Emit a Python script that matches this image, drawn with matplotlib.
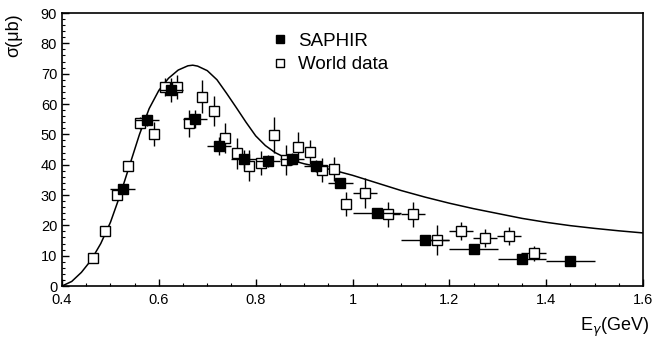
import matplotlib
matplotlib.use("Agg")
import matplotlib.pyplot as plt
from matplotlib.ticker import MultipleLocator

plt.rcParams["font.family"] = ["Liberation Sans", "DejaVu Sans"]

# SAPHIR data (filled squares)
saphir_e = [0.525, 0.575, 0.625, 0.675, 0.725, 0.775, 0.825, 0.875, 0.925, 0.975,
            1.05, 1.15, 1.25, 1.35, 1.45]
saphir_sig = [32.0, 54.8, 64.5, 55.0, 46.2, 41.9, 41.1, 41.9, 39.7, 33.9,
              24.2, 15.2, 12.1, 9.0, 8.2]
saphir_dsig = [1.2, 2.0, 4.0, 3.0, 3.0, 3.0, 2.0, 2.0, 2.0, 1.5,
               1.0, 1.0, 1.0, 1.0, 1.0]
saphir_de = [0.025, 0.025, 0.025, 0.025, 0.025, 0.025, 0.025, 0.025, 0.025, 0.025,
             0.05, 0.05, 0.05, 0.05, 0.05]

# World data (open squares)
world_e = [0.463, 0.489, 0.513, 0.537, 0.561, 0.589, 0.613, 0.637, 0.663, 0.689,
           0.713, 0.737, 0.762, 0.787, 0.811, 0.837, 0.863, 0.887, 0.912, 0.937,
           0.962, 0.987, 1.025, 1.074, 1.125, 1.174, 1.224, 1.274, 1.323, 1.374]
world_sig = [9.1, 18.1, 30.0, 39.6, 53.6, 50.1, 65.5, 65.5, 53.6, 62.4,
             57.7, 48.9, 43.7, 39.7, 40.5, 49.8, 41.5, 45.9, 44.3, 38.2,
             38.6, 27.0, 30.6, 23.6, 23.6, 15.2, 18.2, 15.7, 16.6, 10.8]
world_dsig = [1.0, 1.0, 1.5, 1.5, 2.0, 4.0, 3.0, 4.0, 4.5, 5.5,
              5.0, 5.0, 5.0, 5.0, 4.0, 6.0, 5.0, 5.0, 4.0, 4.0,
              4.0, 4.0, 5.0, 4.0, 4.0, 5.0, 3.0, 3.0, 3.0, 2.5]
world_de = [0, 0, 0, 0, 0, 0, 0, 0, 0, 0,
            0, 0, 0, 0, 0, 0, 0, 0, 0, 0,
            0, 0, 0.025, 0.025, 0.025, 0.025, 0.025, 0.025, 0.025, 0.025]

# model curve
curve_e = [0.40, 0.42, 0.44, 0.46, 0.48, 0.50, 0.52, 0.54, 0.56, 0.58,
           0.60, 0.62, 0.64, 0.66, 0.67, 0.68, 0.70, 0.72, 0.74, 0.76,
           0.78, 0.80, 0.82, 0.84, 0.86, 0.88, 0.90, 0.93, 0.96, 1.00,
           1.05, 1.10, 1.15, 1.20, 1.25, 1.30, 1.35, 1.40, 1.45, 1.50,
           1.55, 1.60]
curve_sig = [0.0, 1.5, 4.5, 8.5, 14.0, 21.0, 30.0, 40.0, 50.0, 58.5,
             64.5, 68.5, 71.2, 72.6, 72.8, 72.5, 71.0, 68.0, 63.5, 58.8,
             54.0, 49.5, 46.3, 44.0, 42.4, 41.2, 40.3, 39.3, 38.2, 36.5,
             34.0, 31.5, 29.3, 27.3, 25.5, 23.9, 22.3, 21.0, 19.9, 19.0,
             18.2, 17.5]

fig = plt.figure(figsize=(6.55, 3.38), dpi=100)
ax = fig.add_axes([0.0947, 0.1538, 0.887, 0.8077])

ax.plot(curve_e, curve_sig, color="black", lw=1.1, zorder=2)

ax.errorbar(world_e, world_sig, yerr=world_dsig, xerr=world_de, fmt="s",
            mfc="white", mec="black", mew=1.0, ms=7, ecolor="black",
            elinewidth=1.0, capsize=0, zorder=3)
ax.errorbar(saphir_e, saphir_sig, yerr=saphir_dsig, xerr=saphir_de, fmt="s",
            mfc="black", mec="black", ms=7, ecolor="black",
            elinewidth=1.0, capsize=0, zorder=4)

# legend markers and text
ax.plot([], [], "s", color="black", ms=6, label="SAPHIR")
ax.plot([], [], "s", mfc="white", mec="black", mew=1.0, ms=6, label="World data")
handles, labels = ax.get_legend_handles_labels()
ax.legend(handles[-2:], labels[-2:], loc="upper left", bbox_to_anchor=(0.33, 0.99),
          frameon=False, fontsize=13.5, handlelength=1.0, handletextpad=0.45,
          labelspacing=0.35)

ax.set_xlim(0.4, 1.6)
ax.set_ylim(0, 90)
ax.xaxis.set_major_locator(MultipleLocator(0.2))
ax.xaxis.set_minor_locator(MultipleLocator(0.05))
ax.yaxis.set_major_locator(MultipleLocator(10))
ax.yaxis.set_minor_locator(MultipleLocator(2))
ax.set_xticks([0.4, 0.6, 0.8, 1.0, 1.2, 1.4, 1.6])
ax.set_xticklabels(["0.4", "0.6", "0.8", "1", "1.2", "1.4", "1.6"])

ax.tick_params(which="both", direction="in", top=False, right=False, labelsize=10.5)
ax.tick_params(which="major", length=5, width=1)
ax.tick_params(axis="x", which="major", pad=5)
ax.tick_params(which="minor", length=2.5, width=0.8)
for sp in ax.spines.values():
    sp.set_linewidth(1.2)

ax.set_xlabel(r"E$_\gamma$(GeV)", loc="right", fontsize=13)
ax.xaxis.set_label_coords(1.01, -0.11)
ax.set_ylabel("σ(μb)", loc="top", fontsize=13)
ax.yaxis.set_label_coords(-0.069, 1.0)

fig.savefig("out.png", dpi=100)
